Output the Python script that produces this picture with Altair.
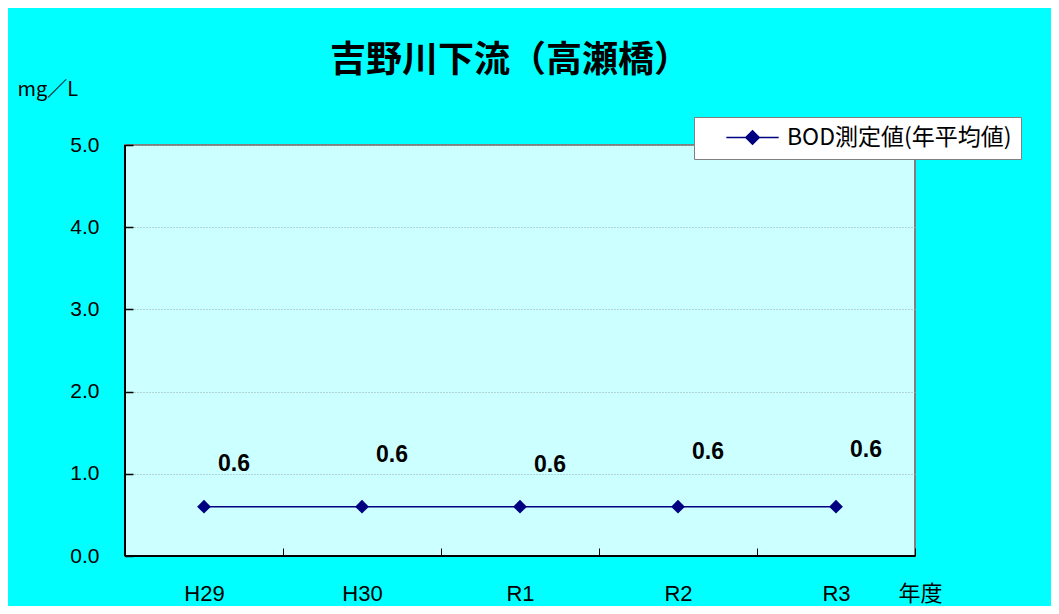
import altair as alt
import pandas as pd

categories = ["H29", "H30", "R1", "R2", "R3"]
bod_values = [0.6, 0.6, 0.6, 0.6, 0.6]
label_heights = [1.12, 1.23, 1.11, 1.27, 1.29]
series_name = "BOD測定値(年平均値)"
y_ticks = [0.0, 1.0, 2.0, 3.0, 4.0, 5.0]
y_domain = [0.0, 5.0]

df = pd.DataFrame({
    "year": categories,
    "bod": bod_values,
    "label_y": label_heights,
    "series": [series_name] * len(categories),
})
zero_df = pd.DataFrame({"v": [y_domain[0]]})

JP = "Noto Sans CJK JP"
LAT = "Liberation Sans"
NAVY = "#000080"

x_scale = alt.Scale(type="band", domain=categories, paddingInner=0, paddingOuter=0)
y_scale = alt.Scale(domain=y_domain, nice=False)

x_axis = alt.Axis(
    title="年度", titleX=773, titleY=52, titleAlign="left", titleBaseline="alphabetic",
    titleFont=JP, titleFontSize=22, titleFontWeight="normal", titleColor="black",
    labelAngle=0, labelFont=LAT, labelFontSize=22, labelColor="black", labelPadding=27,
    ticks=True, tickBand="extent", tickSize=8, tickColor="black", tickWidth=1,
    domain=False, offset=-8, grid=False,
)
y_axis = alt.Axis(
    title="mg／L", titleX=-116, titleY=-50, titleAngle=0, titleAlign="left",
    titleBaseline="alphabetic", titleFont=JP, titleFontSize=20, titleFontWeight="normal",
    titleColor="black",
    values=y_ticks, format=".1f", labelFont=LAT, labelFontSize=21, labelColor="black",
    labelPadding=26, ticks=True, tickSize=8, tickColor="black", tickWidth=1.5,
    domain=False, offset=-8, grid=True, gridColor="#9AA8A8", gridDash=[1, 2], gridWidth=1,
)

x_enc = alt.X("year:N", sort=categories, scale=x_scale, axis=x_axis)
y_enc = alt.Y("bod:Q", scale=y_scale, axis=y_axis)

legend_symbol = "M-3.9,0L3.9,0M0,-1L1,0L0,1L-1,0Z"

line = alt.Chart(df).mark_line(strokeWidth=1.5).encode(
    x=x_enc,
    y=y_enc,
    color=alt.Color(
        "series:N",
        scale=alt.Scale(domain=[series_name], range=[NAVY]),
        legend=alt.Legend(
            title=None, orient="none", legendX=569, legendY=-28,
            fillColor="white", strokeColor="#808080", padding=9,
            symbolType=legend_symbol, symbolSize=180, symbolFillColor=NAVY,
            symbolStrokeColor=NAVY, symbolStrokeWidth=1.5, symbolOffset=38,
            labelOffset=23, labelFont=JP, labelFontSize=23, labelColor="black",
            labelLimit=500, labelExpr="datum.label + '\u00a0\u00a0\u00a0\u00a0\u00a0'",
        ),
    ),
)

points = alt.Chart(df).mark_point(shape="diamond", filled=True, size=190, color=NAVY, opacity=1).encode(
    x=alt.X("year:N", sort=categories, scale=x_scale),
    y=alt.Y("bod:Q", scale=y_scale),
)

labels = alt.Chart(df).mark_text(
    dx=30, font=LAT, fontSize=23, fontWeight="bold", color="black", baseline="middle"
).encode(
    x=alt.X("year:N", sort=categories, scale=x_scale),
    y=alt.Y("label_y:Q", scale=y_scale),
    text=alt.Text("bod:Q", format=".1f"),
)

bottom_rule = alt.Chart(zero_df).mark_rule(color="black", strokeWidth=2).encode(
    y=alt.Y("v:Q", scale=y_scale)
)
left_rule = alt.Chart(zero_df).mark_rule(color="black", strokeWidth=2).encode(
    x=alt.XDatum(categories[0], type="nominal", bandPosition=0, scale=x_scale)
)

chart = alt.layer(line, bottom_rule, left_rule, points, labels).properties(
    width=790,
    height=411,
    padding={"left": 117, "top": 137, "right": 136, "bottom": 50},
    autosize=alt.AutoSizeParams(type="none"),
    background="#00FFFF",
    title=alt.Title(
        "吉野川下流（高瀬橋）", font=JP, fontSize=36, fontWeight="bold", color="black",
        anchor="middle", frame="group", dx=-10, dy=2, offset=1,
    ),
).configure_view(fill="#CCFFFF", stroke="#808080", strokeWidth=2)

chart.save("out.html", embed_options={"renderer": "svg", "actions": False})
